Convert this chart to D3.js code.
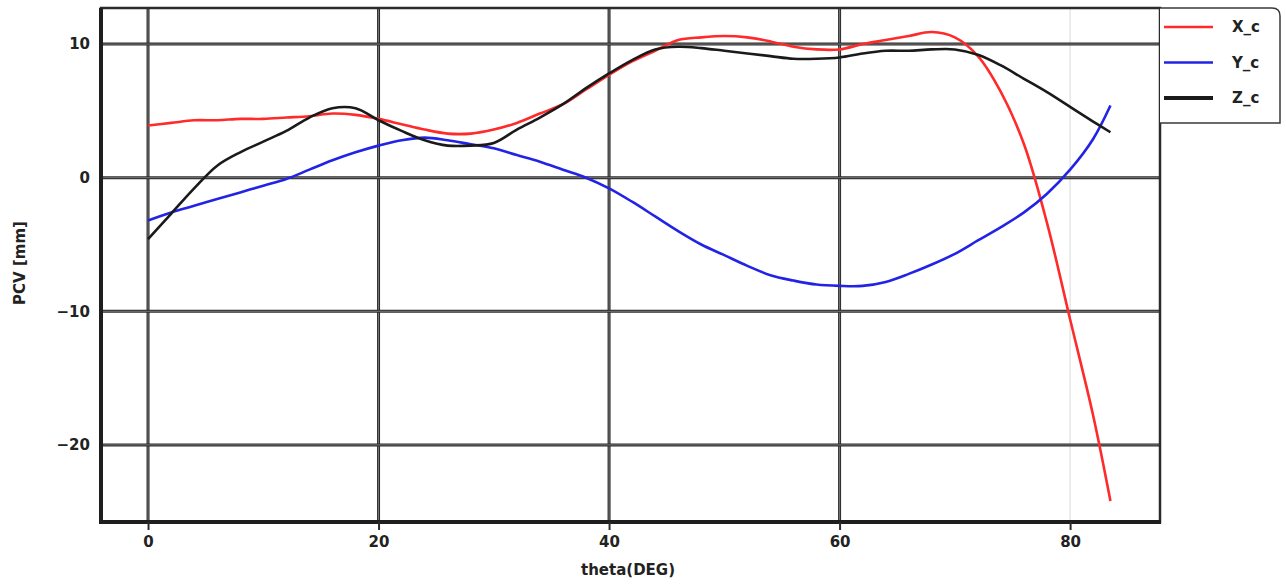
<!DOCTYPE html>
<html>
<head>
<meta charset="utf-8">
<script src="https://cdn.jsdelivr.net/npm/d3@7"></script>
<style>
  html, body { margin: 0; padding: 0; background: #fff; }
  svg { display: block; }
  text { font-family: "DejaVu Sans", sans-serif; }
</style>
</head>
<body>
<svg id="chart" width="1286" height="586"></svg>
<script>
const theta = [0,2,4,6,8,10,12,14,16,18,20,22,24,26,28,30,32,34,36,38,40,42,44,46,48,50,52,54,56,58,60,62,64,66,68,70,72,74,76,78,80,82,83.5];
const xc = [3.9,4.1,4.3,4.3,4.4,4.4,4.5,4.6,4.8,4.7,4.4,4.0,3.6,3.3,3.3,3.6,4.1,4.8,5.5,6.6,7.7,8.7,9.5,10.3,10.5,10.6,10.5,10.2,9.8,9.6,9.6,10.0,10.3,10.6,10.9,10.5,9.1,6.4,2.5,-3.4,-10.6,-17.8,-24.2];
const yc = [-3.2,-2.6,-2.1,-1.6,-1.1,-0.6,-0.1,0.6,1.3,1.9,2.4,2.8,3.0,2.8,2.5,2.2,1.7,1.2,0.6,0.0,-0.8,-1.8,-2.9,-4.0,-5.0,-5.8,-6.6,-7.3,-7.7,-8.0,-8.1,-8.1,-7.8,-7.2,-6.5,-5.7,-4.7,-3.7,-2.6,-1.2,0.6,2.9,5.4];
const zc = [-4.6,-2.7,-0.8,0.9,1.9,2.7,3.5,4.5,5.2,5.2,4.3,3.5,2.8,2.4,2.4,2.6,3.6,4.5,5.5,6.7,7.8,8.8,9.6,9.8,9.7,9.5,9.3,9.1,8.9,8.9,9.0,9.3,9.5,9.5,9.6,9.6,9.2,8.4,7.4,6.4,5.3,4.2,3.4];
const seriesNames = ["X_c", "Y_c", "Z_c"];
const seriesColors = ["#ff2a2a", "#2323e6", "#1a1a1a"];
const xTicks = [0, 20, 40, 60, 80];
const yTicks = [10, 0, -10, -20];
const xLabel = "theta(DEG)";
const yLabel = "PCV [mm]";

const svg = d3.select("#chart");
const L = 101, R = 1160, T = 8, B = 522;
const x = d3.scaleLinear().domain([-4.08, 87.8]).range([L, R]);
const y = d3.scaleLinear().domain([-25.77, 12.7]).range([B, T]);

// grid
const grid = svg.append("g");
xTicks.forEach(t => {
  const light = t === 80;
  grid.append("line").attr("x1", x(t)).attr("x2", x(t)).attr("y1", T).attr("y2", B)
    .attr("stroke", light ? "#e6e6e6" : "#2b2b2b").attr("stroke-width", light ? 1.5 : 3);
  if (!light) grid.append("line").attr("x1", x(t)).attr("x2", x(t)).attr("y1", T).attr("y2", B)
    .attr("stroke", "#8a8a8a").attr("stroke-width", 0.8);
});
yTicks.forEach(t => {
  grid.append("line").attr("x1", L).attr("x2", R).attr("y1", y(t)).attr("y2", y(t))
    .attr("stroke", "#2b2b2b").attr("stroke-width", 3);
  grid.append("line").attr("x1", L).attr("x2", R).attr("y1", y(t)).attr("y2", y(t))
    .attr("stroke", "#8a8a8a").attr("stroke-width", 0.8);
});

// frame
svg.append("rect").attr("x", L).attr("y", T).attr("width", R - L).attr("height", B - T)
  .attr("fill", "none").attr("stroke", "#2b2b2b").attr("stroke-width", 2.5);
svg.append("line").attr("x1", L).attr("x2", L).attr("y1", T).attr("y2", B + 2)
  .attr("stroke", "#1e1e1e").attr("stroke-width", 4);
svg.append("line").attr("x1", L - 2).attr("x2", R + 1).attr("y1", B).attr("y2", B)
  .attr("stroke", "#1e1e1e").attr("stroke-width", 4);

// axes
const xAxis = d3.axisBottom(x).tickValues(xTicks).tickFormat(d3.format("d")).tickSize(8).tickPadding(6);
const gx = svg.append("g").attr("transform", `translate(0,${B})`).call(xAxis);
gx.select(".domain").remove();
gx.selectAll(".tick line").attr("stroke", "#2b2b2b").attr("stroke-width", 2);
gx.selectAll(".tick text").attr("font-size", 15).attr("font-weight", "bold").attr("fill", "#222");

const yAxis = d3.axisLeft(y).tickValues(yTicks).tickFormat(d => d < 0 ? "\u2212" + Math.abs(d) : d).tickSize(0).tickPadding(11);
const gy = svg.append("g").attr("transform", `translate(${L},0)`).call(yAxis);
gy.select(".domain").remove();
gy.selectAll(".tick text").attr("font-size", 15).attr("font-weight", "bold").attr("fill", "#222");

svg.append("text").attr("x", 628).attr("y", 575).attr("text-anchor", "middle")
  .attr("font-size", 15).attr("font-weight", "bold").attr("fill", "#222").text(xLabel);
svg.append("text").attr("transform", `translate(25,${263}) rotate(-90)`).attr("text-anchor", "middle")
  .attr("font-size", 15).attr("font-weight", "bold").attr("fill", "#222").text(yLabel);

// lines
const all = [xc, yc, zc];
const line = d3.line().x(d => x(d[0])).y(d => y(d[1])).curve(d3.curveCatmullRom.alpha(0.5));
const clip = svg.append("clipPath").attr("id", "clip").append("rect")
  .attr("x", L).attr("y", T).attr("width", R - L).attr("height", B - T);
all.forEach((vals, i) => {
  svg.append("path").datum(theta.map((t, j) => [t, vals[j]]))
    .attr("clip-path", "url(#clip)")
    .attr("fill", "none").attr("stroke", seriesColors[i]).attr("stroke-width", 2.6)
    .attr("stroke-linejoin", "round").attr("d", line);
});

// legend
const lg = svg.append("g");
lg.append("path").attr("d", `M${R},${T} H1272 Q1280,${T} 1280,${T + 8} V123 H${R}`)
  .attr("fill", "#fff").attr("stroke", "#3a3a3a").attr("stroke-width", 1.5);
seriesNames.forEach((n, i) => {
  const yy = 27 + i * 35.5;
  lg.append("line").attr("x1", 1164).attr("x2", 1213).attr("y1", yy).attr("y2", yy)
    .attr("stroke", seriesColors[i]).attr("stroke-width", i === 2 ? 4 : 2.6);
  lg.append("text").attr("x", 1232).attr("y", yy + 5).attr("font-size", 15).attr("font-weight", "bold")
    .attr("fill", "#222").text(n);
});
</script>
</body>
</html>
